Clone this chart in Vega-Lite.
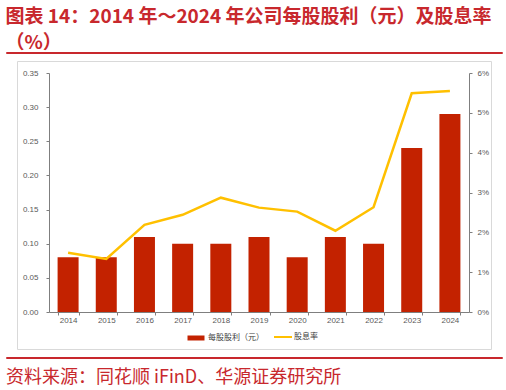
{
  "$schema": "https://vega.github.io/schema/vega-lite/v6.json",
  "padding": {"left": 5, "right": 5, "top": 8, "bottom": 5},
  "config": {"font": "Liberation Sans"},
  "title": {
    "text": ["图表 14：2014 年～2024 年公司每股股利（元）及股息率", "（%）"],
    "anchor": "start",
    "font": "Noto Sans CJK SC",
    "fontSize": 19,
    "fontWeight": "bold",
    "color": "#C8282D",
    "lineHeight": 26,
    "offset": -7,
    "dx": 0
  },
  "datasets": {
    "d": [
      {"year": "2014", "dps": 0.08, "yield": 1.49},
      {"year": "2015", "dps": 0.08, "yield": 1.33},
      {"year": "2016", "dps": 0.11, "yield": 2.19},
      {"year": "2017", "dps": 0.10, "yield": 2.44},
      {"year": "2018", "dps": 0.10, "yield": 2.87},
      {"year": "2019", "dps": 0.11, "yield": 2.62},
      {"year": "2020", "dps": 0.08, "yield": 2.52},
      {"year": "2021", "dps": 0.11, "yield": 2.04},
      {"year": "2022", "dps": 0.10, "yield": 2.63},
      {"year": "2023", "dps": 0.24, "yield": 5.49},
      {"year": "2024", "dps": 0.29, "yield": 5.55}
    ]
  },
  "center": true,
  "bounds": "flush",
  "spacing": 8,
  "vconcat": [
    {
      "width": 496,
      "height": 1,
      "view": {"stroke": "#C8282D", "strokeWidth": 1},
      "data": {"values": [{}]},
      "mark": {"type": "text"}
    },
    {
      "width": 474,
      "height": 288,
      "view": {"stroke": "#D9D9D9", "strokeWidth": 1},
      "data": {"name": "d"},
      "encoding": {
        "x": {
          "field": "year",
          "type": "ordinal",
          "scale": {"range": [32, 452], "paddingInner": 0.45, "paddingOuter": 0.225},
          "axis": {
            "orient": "bottom",
            "offset": -37,
            "title": null,
            "labelAngle": 0,
            "tickBand": "extent",
            "tickSize": 3,
            "tickColor": "#7F7F7F",
            "domainColor": "#7F7F7F",
            "labelFontSize": 8,
            "labelColor": "#595959",
            "labelPadding": 1
          }
        }
      },
      "layer": [
        {
          "mark": {"type": "bar"},
          "encoding": {
            "y": {
              "field": "dps",
              "type": "quantitative",
              "scale": {"domain": [0, 0.35], "range": [251, 12], "nice": false},
              "axis": {
                "orient": "left",
                "offset": -32,
                "title": null,
                "grid": false,
                "values": [0, 0.05, 0.1, 0.15, 0.2, 0.25, 0.3, 0.35],
                "format": ".2f",
                "tickSize": 3,
                "tickColor": "#7F7F7F",
                "domainColor": "#7F7F7F",
                "labelFontSize": 8,
                "labelColor": "#595959",
                "labelPadding": 8
              }
            },
            "fill": {
              "datum": "每股股利（元）",
              "scale": {"range": ["#C32200"]},
              "legend": {
                "orient": "none",
                "legendX": 179,
                "legendY": 275,
                "title": null,
                "padding": 0,
                "symbolType": "stroke",
                "symbolSize": 289,
                "symbolStrokeWidth": 5,
                "symbolStrokeColor": "#C32200",
                "labelFont": "Noto Sans CJK SC",
                "labelFontSize": 8,
                "labelColor": "#404040",
                "labelOffset": 1
              }
            }
          }
        },
        {
          "mark": {"type": "line", "strokeWidth": 2.5},
          "encoding": {
            "y": {
              "field": "yield",
              "type": "quantitative",
              "scale": {"domain": [0, 6], "range": [251, 12], "nice": false},
              "axis": {
                "orient": "right",
                "offset": -22,
                "title": null,
                "grid": false,
                "values": [0, 1, 2, 3, 4, 5, 6],
                "labelExpr": "datum.value + '%'",
                "tickSize": 3,
                "tickColor": "#7F7F7F",
                "domainColor": "#7F7F7F",
                "labelFontSize": 8,
                "labelColor": "#595959",
                "labelPadding": 5
              }
            },
            "stroke": {
              "datum": "股息率",
              "scale": {"range": ["#FFC000"]},
              "legend": {
                "orient": "none",
                "legendX": 267,
                "legendY": 275,
                "title": null,
                "padding": 0,
                "symbolType": "stroke",
                "symbolSize": 324,
                "symbolStrokeWidth": 2,
                "labelFont": "Noto Sans CJK SC",
                "labelFontSize": 8,
                "labelColor": "#404040",
                "labelOffset": 1
              }
            }
          }
        }
      ],
      "resolve": {"scale": {"y": "independent"}}
    },
    {
      "width": 496,
      "height": 1,
      "view": {"stroke": "#C8282D", "strokeWidth": 1},
      "data": {"values": [{}]},
      "mark": {"type": "text"},
      "title": {
        "text": "资料来源：同花顺 iFinD、华源证券研究所",
        "orient": "bottom",
        "anchor": "start",
        "font": "Noto Sans CJK SC",
        "fontSize": 18,
        "fontWeight": "normal",
        "color": "#C8282D",
        "offset": 6,
        "dx": 0
      }
    }
  ]
}
